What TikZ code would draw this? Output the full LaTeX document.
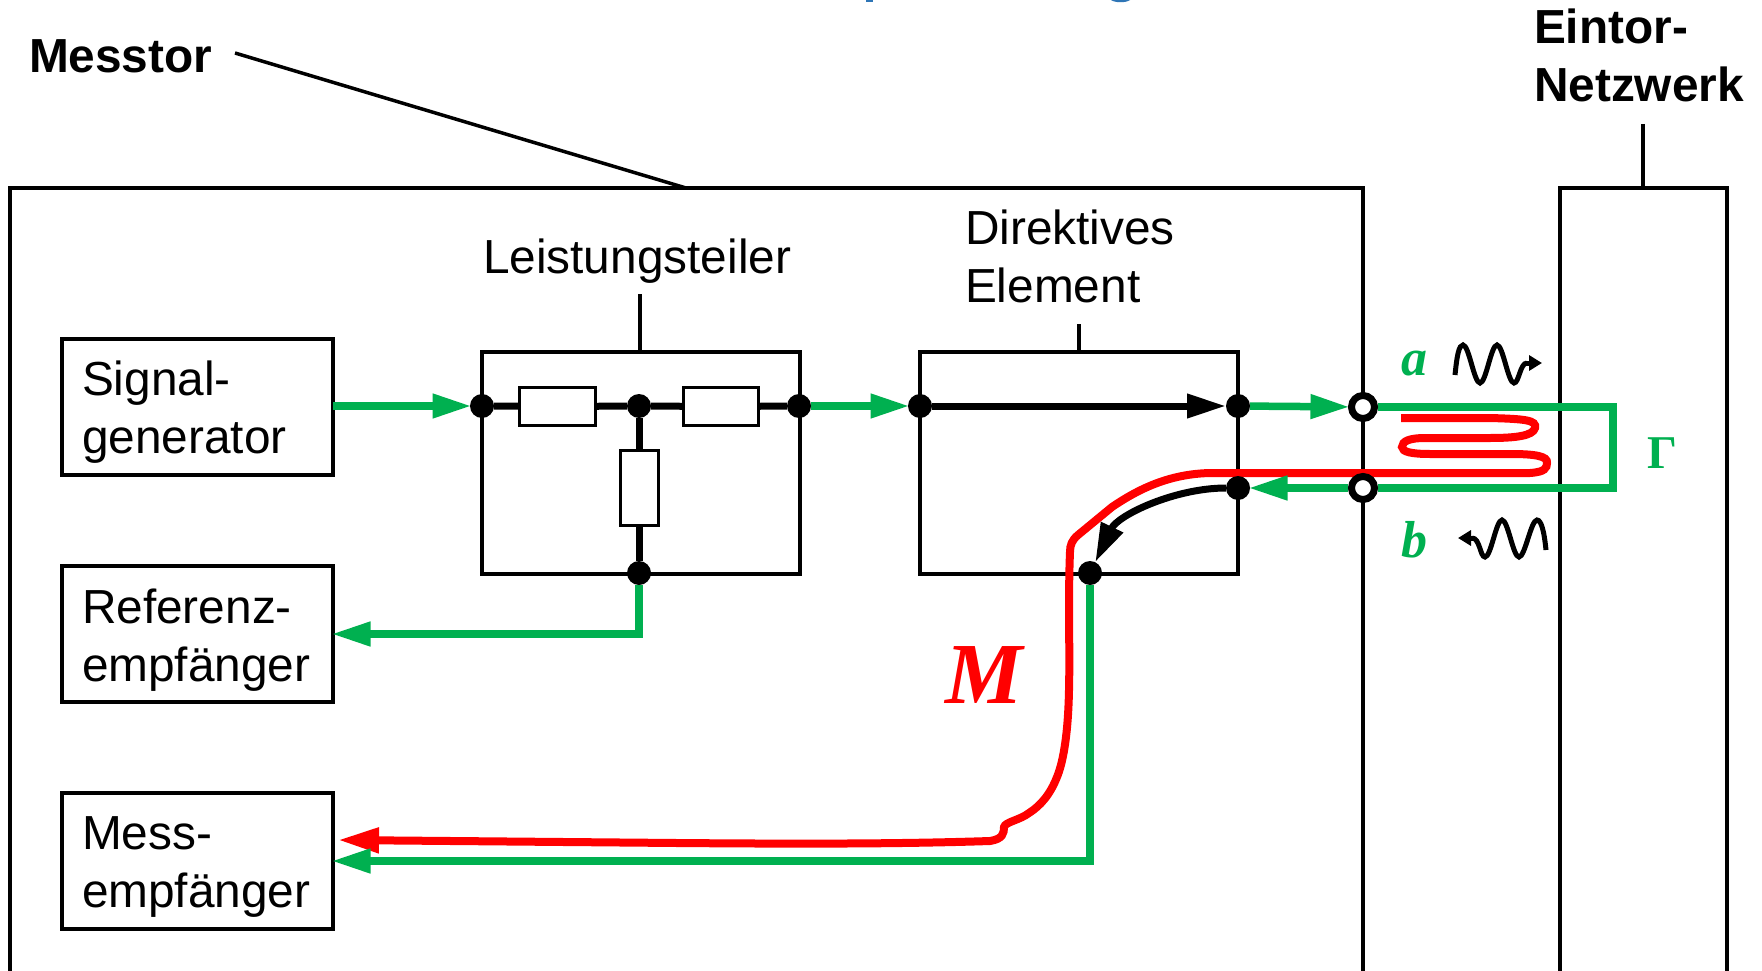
\documentclass[tikz,border=0pt]{standalone}
\usepackage{fontspec}
\setmainfont{Liberation Sans}
\newfontfamily\mathlike{Liberation Serif}
\usetikzlibrary{arrows.meta}
\definecolor{mgreen}{RGB}{0,176,80}
\definecolor{mblue}{RGB}{46,117,182}
\pgfdeclarelayer{bg}
\pgfdeclarelayer{top}
\pgfsetlayers{bg,main,top}
\tikzset{
  x=1pt,y=-1pt,
  line join=round,
  lbl/.style={font=\fontsize{47.8}{58}\selectfont,inner sep=0pt,outer sep=0pt,align=left},
  lblb/.style={lbl,font=\fontsize{47.8}{58}\selectfont\bfseries},
  bx/.style={draw,line width=4pt,inner sep=0pt,outer sep=0pt,anchor=north west,minimum width=271pt,minimum height=136pt},
  blk/.style={draw,line width=4pt,inner sep=0pt,outer sep=0pt,anchor=north west,minimum width=318pt,minimum height=222pt},
  boxtxt/.style={lbl,anchor=north west},
  dot/.style={circle,fill=black,inner sep=0pt,outer sep=0pt,minimum size=24pt},
  port/.style={circle,draw,fill=white,line width=7pt,inner sep=0pt,outer sep=3.5pt,minimum size=23pt},
  res/.style={draw,fill=white,line width=3pt,inner sep=0pt,outer sep=0pt},
  thin line/.style={line width=3.5pt},
  wire/.style={line width=7pt},
  gline/.style={draw=mgreen,line width=7.5pt},
  garrow/.style={gline,shorten >=-1.5pt,-{Triangle[length=39pt,width=23pt]}},
  rline/.style={draw=red,line width=8pt,line cap=butt,-{Triangle[length=41pt,width=24pt]}},
  barrow/.style={wire,-{Triangle[length=39pt,width=23pt]}},
  sym/.style={font=\fontsize{52}{60}\mathlike\bfseries\itshape\selectfont,text=mgreen,inner sep=0pt,outer sep=0pt},
  wave/.style={line width=5pt,-{Triangle[length=13pt,width=15pt]}},
}
\begin{document}
\begin{tikzpicture}
\useasboundingbox (0,0) rectangle (1762,971);

\begin{pgfonlayer}{bg}
  \fill[white] (0,0) rectangle (1762,971);
  % clipped title remnants
  \fill[mblue] (866,0) rectangle (873,2);
  \fill[mblue] (1111,0) .. controls (1115,3) and (1126,3) .. (1130,0) -- cycle;
  \draw[thin line] (10,971) -- (10,188) -- (1363,188) -- (1363,971);
  \draw[thin line] (1560,971) -- (1560,188) -- (1727,188) -- (1727,971);
  \node[bx] (sg) at (62,339) {};
  \node[bx] (re) at (62,566) {};
  \node[bx] (me) at (62,793) {};
  \node[blk] (lt) at (482,352) {};
  \node[blk] (de) at (920,352) {};
\end{pgfonlayer}

\node[lblb,anchor=north west] (messtor) at (29,40) {Messtor};
\node[lblb,anchor=north west] (eintor) at (1534,9) {Eintor-\\Netzwerk};
\node[lbl,anchor=north west] (ltlabel) at (483,239) {Leistungsteiler};
\node[lbl,anchor=north west] (delabel) at (965,210) {Direktives\\Element};
\node[boxtxt] (sgt) at (82,361) {Signal-\\generator};
\node[boxtxt] (ret) at (82,589) {Referenz-\\empfänger};
\node[boxtxt] (met) at (82,817) {Mess-\\empfänger};

\coordinate (m1) at (235,53);
\coordinate (m2) at (686,188);
\coordinate (e1) at (1643,124);
\coordinate (e2) at (1643,188);
\coordinate (l1) at (640,294);
\coordinate (l2) at (640,351);
\coordinate (d1) at (1079,324);
\coordinate (d2) at (1079,351);
\draw[thin line] (m1) -- (m2);
\draw[thin line] (e1) -- (e2);
\draw[thin line] (l1) -- (l2);
\draw[thin line] (d1) -- (d2);

\begin{pgfonlayer}{top}
  \node[dot] (lin) at (482,406) {};
  \node[dot] (lmid) at (639,406) {};
  \node[dot] (lout) at (799,406) {};
  \node[dot] (lbot) at (639,573) {};
  \node[dot] (din) at (920,406) {};
  \node[dot] (dout) at (1238,406) {};
  \node[dot] (drev) at (1238,488) {};
  \node[dot] (dbot) at (1090,573) {};
  \node[port] (pa) at (1363,407) {};
  \node[port] (pb) at (1363,488) {};
  \node[res,minimum width=76pt,minimum height=38pt] (r1) at (557.5,406.5) {};
  \node[res,minimum width=75pt,minimum height=38pt] (r2) at (721,406.5) {};
  \node[res,minimum width=38pt,minimum height=75pt] (r3) at (639,488) {};
\end{pgfonlayer}

% black wires
\draw[wire] (lin) -- (r1);
\draw[wire] (r1) -- (lmid);
\draw[wire] (lmid) -- (r2);
\draw[wire] (r2) -- (lout);
\draw[wire] (lmid) -- (r3);
\draw[wire] (r3) -- (lbot);

% red path
\coordinate (coil) at (1401,418);
\coordinate (redend) at (338,840);
\draw[rline] (coil) -- (1490,418)
  .. controls (1525,419) and (1537,420) .. (1535,428)
  .. controls (1533,436) and (1515,438) .. (1490,438)
  -- (1425,438)
  .. controls (1410,438) and (1402,441) .. (1402,447)
  .. controls (1402,452) and (1412,454) .. (1430,454)
  -- (1510,454)
  .. controls (1535,454) and (1548,456) .. (1547,463)
  .. controls (1547,468) and (1545,472) .. (1530,473)
  -- (1210,473)
  .. controls (1170,474) and (1140,488) .. (1112,507)
  -- (1078,535)
  .. controls (1072,540) and (1070,545) .. (1070,552)
  .. controls (1068,600) and (1070,650) .. (1069,690)
  .. controls (1068,740) and (1062,765) .. (1057,777)
  .. controls (1050,795) and (1040,806) .. (1029,813)
  .. controls (1020,820) and (1005,822) .. (1004,827)
  .. controls (1004,833) and (1003,839) .. (990,841)
  .. controls (900,844) and (800,844) .. (677,843)
  -- (redend);

% green arrows
\draw[garrow] (sg.east |- lin) -- (lin);
\draw[garrow] (lout) -- (din);
\draw[garrow] (dout) -- (pa);
\draw[garrow] (pb) -- (drev);
\coordinate (ga) at (1613,407);
\coordinate (gb) at (1613,488);
\draw[gline] (pa) -- (ga) -- (gb) -- (pb);
\draw[garrow] (lbot) |- (re.east);
\coordinate (meg) at (333,861);
\draw[garrow] (dbot) |- (meg);

% black arrows
\draw[barrow] (din) -- (dout);
\draw[barrow] (drev) .. controls (1175,488) and (1118,515) .. (dbot);

% waves
\draw[line width=5pt] (1455,375) .. controls (1457,355) and (1459,345) .. (1463,345)
  .. controls (1469,345) and (1474,383) .. (1480,383)
  .. controls (1486,383) and (1491,345) .. (1497,345)
  .. controls (1503,345) and (1508,383) .. (1514,383)
  .. controls (1519,383) and (1520,363) .. (1527,363);
\coordinate (wa1) at (1525,363);
\coordinate (wa2) at (1542,363);
\draw[wave] (wa1) -- (wa2);
\draw[line width=5pt] (1472,538) .. controls (1480,538) and (1480,557) .. (1485,557)
  .. controls (1491,557) and (1496,520) .. (1502,520)
  .. controls (1508,520) and (1513,557) .. (1519,557)
  .. controls (1525,557) and (1531,520) .. (1537,520)
  .. controls (1541,520) and (1544,530) .. (1546,550);
\coordinate (wb1) at (1475,538);
\coordinate (wb2) at (1458,538);
\draw[wave] (wb1) -- (wb2);

% symbols
\node[sym,anchor=base west] (sa) at (1401,375) {a};
\node[sym,anchor=base west] (sb) at (1401,557) {b};
\node[sym,font=\fontsize{47}{56}\mathlike\bfseries\selectfont,anchor=base west] (sg2) at (1647,468) {Γ};
\node[sym,font=\fontsize{87}{100}\mathlike\bfseries\itshape\selectfont,text=red,anchor=base west] (sm) at (945,703) {M};
\end{tikzpicture}
\end{document}
